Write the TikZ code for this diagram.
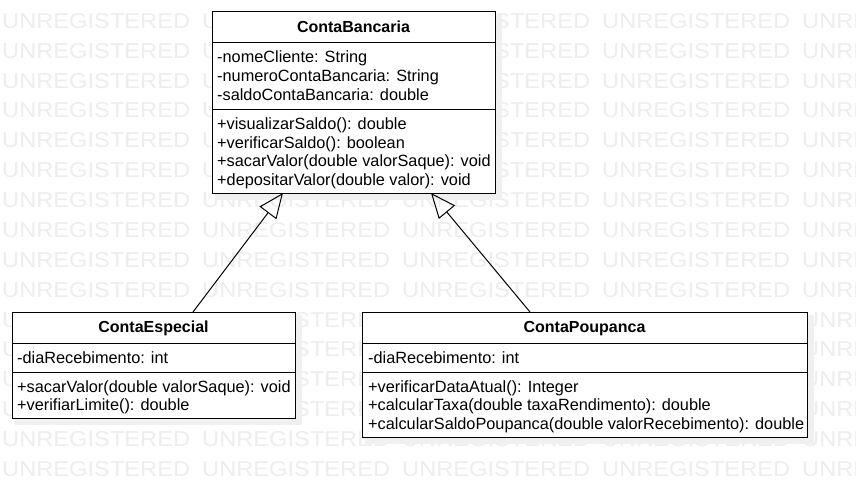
\documentclass[tikz,border=0pt]{standalone}
\usepackage{fontspec}
\setmainfont{Liberation Sans}
\usepackage{graphicx}
\usetikzlibrary{arrows.meta,calc}
\definecolor{wm}{HTML}{EDEDED}
\definecolor{shadowc}{HTML}{F0F0F0}
\newcommand\wmtext{\resizebox{188pt}{15pt}{UNREGISTERED}}
\begin{document}
\begin{tikzpicture}[x=1pt,y=-1pt,
  classbox/.style={draw=black, line width=1pt, fill=white, inner sep=0pt, outer sep=0pt, anchor=north west},
  shadowbox/.style={fill=shadowc, draw=none, inner sep=0pt, outer sep=0pt, anchor=north west},
  member/.style={anchor=base west, inner sep=0pt, font=\fontsize{16.3}{18}\selectfont},
  title/.style={anchor=base, inner sep=0pt, font=\fontsize{16}{18}\selectfont\bfseries},
  divider/.style={line width=1pt, draw=black},
  inherit/.style={line width=1pt, -{Triangle[open, length=25pt, width=21pt, line width=1pt]}}
]
\useasboundingbox[fill=white] (0,0) rectangle (856,487);
% watermark
\foreach \r in {0,...,15}{
  \foreach \c in {0,...,4}{
    \node[anchor=base west, inner sep=0pt, text=wm] (w\r-\c) at ({2+200*\c},{28.3+29.87*\r}) {\wmtext};
  }
}
% shadows
\node[shadowbox, minimum width=287, minimum height=185] (cbs) at (215,15) {};
\node[shadowbox, minimum width=287, minimum height=110] (ces) at (15,315) {};
\node[shadowbox, minimum width=449, minimum height=129] (cps) at (365,315) {};
% ContaBancaria
\node[classbox, minimum width=283, minimum height=181] (cb) at (212,12) {};
\draw[divider] (cb.west |- 0,43) -- (cb.east |- 0,43);
\draw[divider] (cb.west |- 0,109) -- (cb.east |- 0,109);
\node[title] (cbt) at (353.5,32.3) {ContaBancaria};
\node[member] (cba1) at (217,63) {-nomeCliente: String};
\node[member] (cba2) at (217,81.5) {-numeroContaBancaria: String};
\node[member] (cba3) at (217,100) {-saldoContaBancaria: double};
\node[member] (cbm1) at (217,129.5) {+visualizarSaldo(): double};
\node[member] (cbm2) at (217,148) {+verificarSaldo(): boolean};
\node[member] (cbm3) at (217,166.5) {+sacarValor(double valorSaque): void};
\node[member] (cbm4) at (217,185) {+depositarValor(double valor): void};
% ContaEspecial
\node[classbox, minimum width=283, minimum height=106] (ce) at (12,312) {};
\draw[divider] (ce.west |- 0,343) -- (ce.east |- 0,343);
\draw[divider] (ce.west |- 0,372) -- (ce.east |- 0,372);
\node[title] (cet) at (153.5,332.3) {ContaEspecial};
\node[member] (cea1) at (17,363.3) {-diaRecebimento: int};
\node[member] (cem1) at (17,392) {+sacarValor(double valorSaque): void};
\node[member] (cem2) at (17,410.5) {+verifiarLimite(): double};
% ContaPoupanca
\node[classbox, minimum width=445, minimum height=125] (cp) at (362,312) {};
\draw[divider] (cp.west |- 0,343) -- (cp.east |- 0,343);
\draw[divider] (cp.west |- 0,372) -- (cp.east |- 0,372);
\node[title] (cpt) at (584.5,332.3) {ContaPoupanca};
\node[member] (cpa1) at (368,363.3) {-diaRecebimento: int};
\node[member] (cpm1) at (368,392) {+verificarDataAtual(): Integer};
\node[member] (cpm2) at (368,410.5) {+calcularTaxa(double taxaRendimento): double};
\node[member] (cpm3) at (368,429) {+calcularSaldoPoupanca(double valorRecebimento): double};
% inheritance
\draw[inherit] ([xshift=39.5pt]ce.north) -- ([xshift=-70.5pt]cb.south);
\draw[inherit] ([xshift=-54.5pt]cp.north) -- ([xshift=77.5pt]cb.south);
\end{tikzpicture}
\end{document}
